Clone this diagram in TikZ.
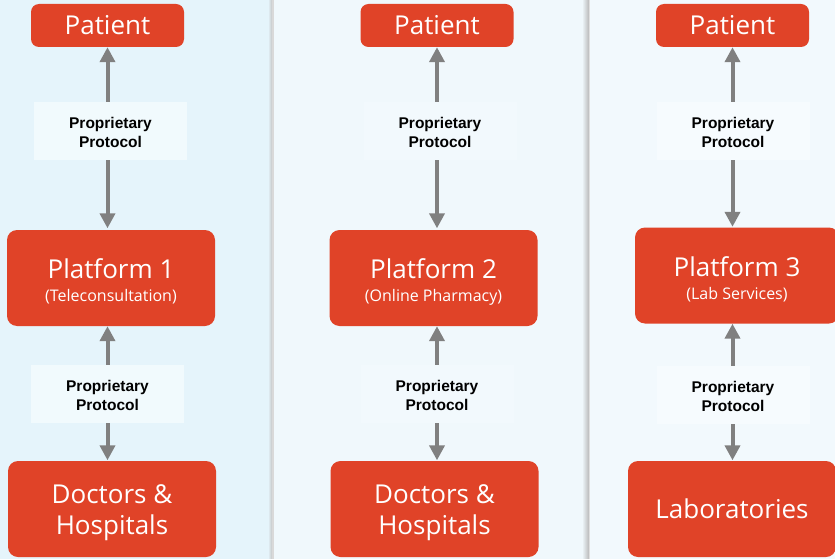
\documentclass[tikz,border=0pt]{standalone}
\usepackage{fontspec}
\setmainfont{Open Sans}
\newfontfamily\labfont{Liberation Sans}
\usetikzlibrary{arrows.meta}
\definecolor{boxred}{HTML}{E04328}
\definecolor{bgleft}{HTML}{E5F4FB}
\definecolor{bgmid}{HTML}{F0F8FC}
\definecolor{bgright}{HTML}{F2F9FD}
\definecolor{labbg}{HTML}{F1FAFD}
\definecolor{arrgray}{HTML}{808080}
\tikzset{
  redbox/.style={fill=boxred, text=white, rounded corners=10pt, inner sep=0pt, align=center},
  patbox/.style={redbox, rounded corners=8pt, minimum width=153pt, minimum height=43pt, font=\fontsize{26}{31}\selectfont},
  bigbox/.style={redbox, minimum width=208pt, minimum height=96pt, font=\fontsize{26}{31}\selectfont},
  protobox/.style={inner sep=0pt, minimum width=153pt, minimum height=58pt, align=center, text=black, font=\labfont\bfseries\fontsize{15.5}{19}\selectfont},
  flow/.style={draw=arrgray, line width=4pt, -{Triangle[width=15pt,length=15pt]}},
}
\newcommand{\subline}[1]{\\[-8pt]{\fontsize{16}{18}\selectfont #1}}
\newcommand{\dstrut}{\rule{0pt}{27pt}}
\newcommand{\lstrut}{\rule{0pt}{15pt}}
\begin{document}
\begin{tikzpicture}[x=1pt,y=-1pt]
\useasboundingbox (0,0) rectangle (835,559);
% panels
\fill[bgleft] (0,0) rectangle (272,559);
\fill[bgmid] (272,0) rectangle (588,559);
\fill[bgright] (588,0) rectangle (835,559);
\shade[left color=bgleft, right color=gray!45] (268,0) rectangle (272,559);
\fill[gray!30] (272,0) rectangle (273.5,559);
\shade[left color=bgmid, right color=gray!55] (582,0) rectangle (589,559);
\fill[gray!25] (589,0) rectangle (590,559);

% column 1
\node[patbox] (pat1) at (107.5,25.5) {Patient};
\node[protobox, fill=labbg] (lab1a) at (110.5,131) {\lstrut Proprietary\\Protocol};
\node[bigbox] (plat1) at (111,278) {\dstrut Platform 1\subline{(Teleconsultation)}};
\node[protobox, fill=labbg] (lab1b) at (107.5,394) {\lstrut Proprietary\\Protocol};
\node[bigbox] (doc1) at (112,509) {\dstrut Doctors \&\\Hospitals};

% column 2
\node[patbox] (pat2) at (437,25.5) {Patient};
\node[protobox, fill=bgright] (lab2a) at (440,131) {\lstrut Proprietary\\Protocol};
\node[bigbox] (plat2) at (433.5,278) {\dstrut Platform 2\subline{(Online Pharmacy)}};
\node[protobox, fill=bgright] (lab2b) at (437,394) {\lstrut Proprietary\\Protocol};
\node[bigbox] (doc2) at (434.5,509) {\dstrut Doctors \&\\Hospitals};

% column 3
\node[patbox] (pat3) at (732.5,25.5) {Patient};
\node[protobox, fill=white!30!bgright] (lab3a) at (733,131) {\lstrut Proprietary\\Protocol};
\node[bigbox, minimum width=204pt] (plat3) at (737,275.5) {\dstrut Platform 3\subline{(Lab Services)}};
\node[protobox, fill=white!30!bgright] (lab3b) at (733,395) {\lstrut Proprietary\\Protocol};
\node[bigbox] (labs) at (732,509) {Laboratories};

% arrows column 1
\draw[flow] (lab1a.north -| pat1.south) -- (pat1.south);
\draw[flow] (lab1a.south -| pat1.south) -- ([yshift=1.5pt]plat1.north -| pat1.south);
\draw[flow] (lab1b.north) -- (plat1.south -| lab1b.north);
\draw[flow] (lab1b.south) -- ([yshift=0.5pt]doc1.north -| lab1b.south);
% arrows column 2
\draw[flow] (lab2a.north -| pat2.south) -- (pat2.south);
\draw[flow] (lab2a.south -| pat2.south) -- ([yshift=1.5pt]plat2.north -| pat2.south);
\draw[flow] (lab2b.north) -- (plat2.south -| lab2b.north);
\draw[flow] (lab2b.south) -- ([yshift=0.5pt]doc2.north -| lab2b.south);
% arrows column 3
\draw[flow] (lab3a.north -| pat3.south) -- (pat3.south);
\draw[flow] (lab3a.south -| pat3.south) -- ([yshift=0.5pt]plat3.north -| pat3.south);
\draw[flow] (lab3b.north -| pat3.south) -- (plat3.south -| pat3.south);
\draw[flow] (lab3b.south -| pat3.south) -- ([yshift=0.5pt]labs.north -| pat3.south);
\end{tikzpicture}
\end{document}
